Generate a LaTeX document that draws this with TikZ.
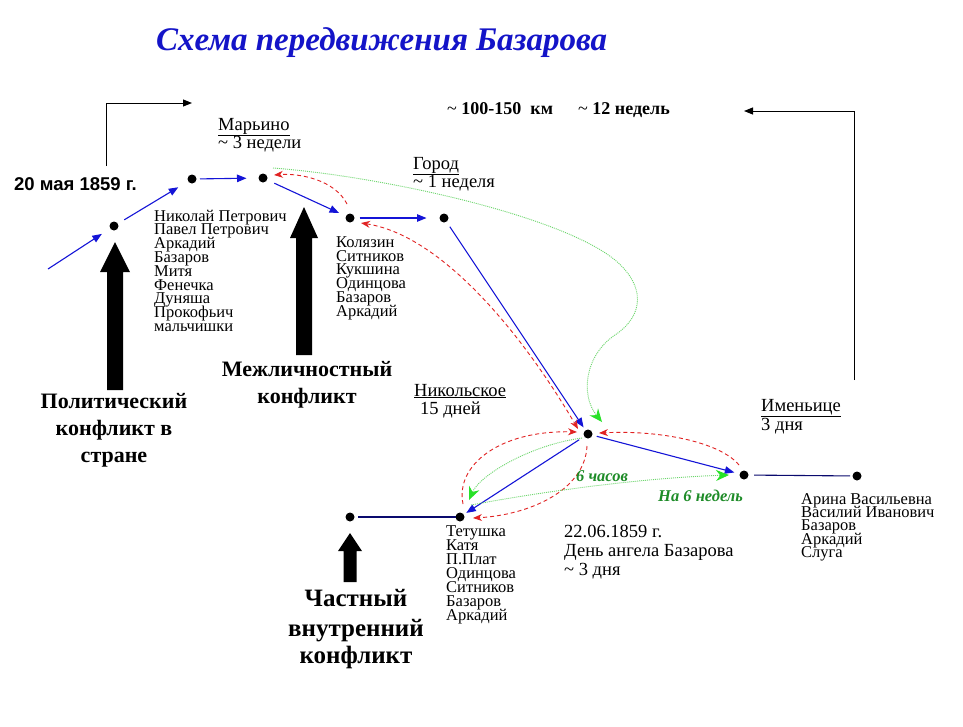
\documentclass[tikz,border=0pt]{standalone}
\usepackage{fontspec}
\setmainfont{Liberation Serif}
\newfontfamily\arialfont{Liberation Sans}
\usetikzlibrary{arrows.meta,calc}
\definecolor{tblue}{RGB}{20,20,200}
\definecolor{ablue}{RGB}{20,20,215}
\definecolor{navy}{RGB}{10,10,110}
\definecolor{rred}{RGB}{225,35,35}
\definecolor{lgreen}{RGB}{110,215,110}
\definecolor{hgreen}{RGB}{40,225,40}
\definecolor{tgreen}{RGB}{30,140,40}
\newcommand\namestack[2]{\vtop{\baselineskip=#1pt\lineskiplimit=-100pt\lineskip=0pt\halign{##\hfil\cr #2\crcr}}}
\begin{document}
\begin{tikzpicture}[x=1pt,y=-1pt,
 dot/.style={circle,fill=black,minimum size=9pt,inner sep=0pt,outer sep=0pt},
 barrow/.style={draw=ablue,line width=1.1pt,-{Triangle[length=9.5pt,width=7.5pt]}},
 bline/.style={draw=navy,line width=1.1pt},
 rdash/.style={draw=rred,line width=0.9pt,dash pattern=on 4pt off 3pt,-{Stealth[length=9pt,width=7pt]}},
 gdot/.style={draw=lgreen,line width=0.9pt,dash pattern=on 1pt off 1pt,-{Stealth[length=13pt,width=11pt,color=hgreen]}},
 elbow/.style={draw=black,line width=1pt,-{Triangle[length=9pt,width=7pt]}},
 lst/.style={anchor=base west,inner sep=0pt,font=\fontsize{16.5}{14}\selectfont},
 head/.style={anchor=base west,inner sep=0pt,text height=12.5pt,text depth=4pt,font=\fontsize{18.5}{19}\selectfont},
 bigb/.style={anchor=base,inner sep=0pt,font=\fontsize{22}{26}\bfseries\selectfont},
 huge/.style={anchor=base,inner sep=0pt,font=\fontsize{25}{30}\bfseries\selectfont},
 gtxt/.style={anchor=base west,inner sep=0pt,text=tgreen,font=\fontsize{16.5}{18}\bfseries\itshape\selectfont},
]
\useasboundingbox (0,0) rectangle (963,726);
\fill[white] (0,0) rectangle (963,726);

% title
\node[anchor=base west,inner sep=0pt,text=tblue,font=\fontsize{33}{35}\bfseries\itshape\selectfont] (title) at (156,50) {Схема передвижения\ Базарова};

% dots
\node[dot] (d1) at (114,226) {};
\node[dot] (d2) at (192,179) {};
\node[dot] (d3) at (263,178) {};
\node[dot] (d4) at (350,218) {};
\node[dot] (d5) at (444,218) {};
\node[dot] (d6) at (588,434) {};
\node[dot] (d7) at (744,475) {};
\node[dot] (d8) at (857,476) {};
\node[dot] (d9) at (460,517) {};
\node[dot] (d10) at (350,517) {};
\coordinate (s0) at (48,269);

% blue route
\draw[barrow,shorten >=10pt] (s0) -- (d1);
\draw[barrow,shorten <=7.5pt,shorten >=11.5pt] (d1) -- (d2);
\draw[barrow,shorten <=3.5pt,shorten >=12pt] (d2) -- (d3);
\draw[barrow,shorten <=8pt,shorten >=7.5pt] (d3) -- (d4);
\draw[barrow,shorten <=5pt,shorten >=13pt] (d4) -- (d5);
\draw[barrow,shorten <=6pt,shorten >=3.5pt] (d5) -- (d6);
\draw[barrow,shorten <=4.5pt,shorten >=5.5pt] (d6) -- (d7);
\draw[barrow,shorten <=6pt,shorten >=3pt] (d6) -- (d9);
\draw[bline,shorten <=5.5pt,shorten >=2.5pt] (d7) -- (d8);
\draw[bline,shorten <=3.5pt] (d10) -- (d9);

% red dashed
\draw[rdash] ([shift={(-3,-14)}]d4.center) .. controls (335,180) and (300,173) .. ([shift={(11,-3)}]d3.center);
\draw[rdash,{Stealth[length=9pt,width=7pt]}-{Stealth[length=9pt,width=7pt]}] ([shift={(11,5)}]d4.center) .. controls (440,235) and (520,330) .. ([shift={(-10,-5)}]d6.center);
\draw[rdash] ([shift={(-5,-10)}]d7.center) .. controls (720,442) and (660,430) .. ([shift={(11,-1)}]d6.center);
\draw[rdash] ([shift={(3,-13)}]d9.center) .. controls (455,465) and (500,430) .. ([shift={(-11,-2)}]d6.center);
\draw[rdash] ([shift={(-1,12)}]d6.center) .. controls (585,490) and (530,515) .. ([shift={(13,1)}]d9.center);

% green dotted
\draw[gdot] ([shift={(10,-10)}]d3.center) .. controls (380,176) and (560,215) .. (615,260)
  .. controls (645,285) and (645,315) .. (615,335)
  .. controls (585,355) and (580,395) .. ([shift={(14,-12)}]d6.center);
\draw[gdot] ([shift={(-6,4)}]d6.center) .. controls (530,445) and (480,475) .. ([shift={(9,-17)}]d9.center);
\draw[gdot] ([shift={(11,-12)}]d9.center) .. controls (540,492) and (640,478) .. ([shift={(-15,0)}]d7.center);

% elbow connectors
\coordinate (e1a) at (106,166);
\coordinate (e1b) at (192,103);
\draw[elbow] (e1a) |- (e1b);
\coordinate (e2a) at (854,380);
\coordinate (e2b) at (744,111);
\draw[elbow] (e2a) |- (e2b);

% block arrows
\fill[black] (107,390) -- (107,272) -- (100,272) -- (115,242) -- (130,272) -- (123,272) -- (123,390) -- cycle;
\fill[black] (296,355) -- (296,238) -- (290,238) -- (304,207) -- (318,238) -- (312,238) -- (312,355) -- cycle;
\fill[black] (343.5,582) -- (343.5,551) -- (338,551) -- (350,533) -- (362,551) -- (356.5,551) -- (356.5,582) -- cycle;

% texts
\node[anchor=base west,inner sep=0pt,font=\arialfont\fontsize{18.5}{20}\bfseries\selectfont] (date1) at (14,190) {20 мая 1859 г.};
\node[head] (mar1) at (218,130) {\underline{Марьино}};
\node[head] (mar2) at (218,148) {\char`\~\ 3 недели};
\node[lst] (marlist) at (154,221) {\namestack{13.8}{Николай Петрович\cr Павел Петрович\cr Аркадий\cr Базаров\cr Митя\cr Фенечка\cr Дуняша\cr Прокофьич\cr мальчишки}};
\node[head] (gor1) at (413,169) {\underline{Город}};
\node[head] (gor2) at (413,187) {\char`\~\ 1 неделя};
\node[lst] (kolist) at (336,247.3) {\namestack{13.8}{Колязин\cr Ситников\cr Кукшина\cr Одинцова\cr Базаров\cr Аркадий}};
\node[anchor=base west,inner sep=0pt,font=\fontsize{18}{20}\bfseries\selectfont] (km) at (447,114) {\mdseries\char`\~\ \bfseries 100-150\ \ км};
\node[anchor=base west,inner sep=0pt,font=\fontsize{18}{20}\bfseries\selectfont] (wk) at (578,114) {\mdseries\char`\~\ \bfseries 12 недель};
\node[bigb] (mz1) at (307,376.5) {Межличностный};
\node[bigb] (mz2) at (307,403) {конфликт};
\node[bigb] (po1) at (114,408) {Политический};
\node[bigb] (po2) at (114,435.5) {конфликт в};
\node[bigb] (po3) at (114,462.5) {стране};
\node[head] (ni1) at (414,396) {\underline{Никольское}};
\node[head] (ni2) at (420,414.5) {15 дней};
\node[head] (im1) at (761,411.5) {\underline{Именьице}};
\node[head] (im2) at (761,430) {3 дня};
\node[lst] (arlist) at (801,504) {\namestack{13.4}{Арина Васильевна\cr Василий Иванович\cr Базаров\cr Аркадий\cr Слуга}};
\node[lst] (telist) at (446,536) {\namestack{14}{Тетушка\cr Катя\cr П.Плат\cr Одинцова\cr Ситников\cr Базаров\cr Аркадий}};
\node[head] (da1) at (564,537) {22.06.1859 г.};
\node[head] (da2) at (564,556) {День ангела Базарова};
\node[head] (da3) at (564,575) {\char`\~\ 3 дня};
\node[huge] (ch1) at (356,606.5) {Частный};
\node[huge] (ch2) at (356,636.5) {внутренний};
\node[huge] (ch3) at (356,663.5) {конфликт};
\node[gtxt] (gt1) at (576,481) {6 часов};
\node[gtxt] (gt2) at (658,501) {На 6 недель};
\end{tikzpicture}
\end{document}
